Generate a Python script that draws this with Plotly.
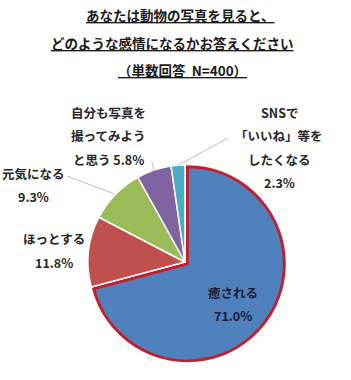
import math
import plotly.graph_objects as go

W, H = 351, 380

categories = ["癒される", "ほっとする", "元気になる", "自分も写真を撮ってみようと思う", "SNSで「いいね」等をしたくなる"]
values = [71.0, 11.8, 9.3, 5.8, 2.3]
colors = ["#4F81BD", "#C0504D", "#9BBB59", "#8064A2", "#4BACC6"]
title_lines = ["あなたは動物の写真を見ると、", "どのような感情になるかお答えください", "（単数回答  N=400）"]
label_lines = [
    ["癒される", "71.0%"],
    ["ほっとする", "11.8%"],
    ["元気になる", "9.3%"],
    ["自分も写真を", "撮ってみよう", "と思う 5.8%"],
    ["SNSで", "「いいね」等を", "したくなる", "2.3%"],
]

# layout (pixels)
cx, cy, r = 185, 262, 97
pull0 = 0.03
R = r * (1 + pull0)

fig = go.Figure(go.Pie(
    labels=categories, values=values, sort=False, direction="clockwise", rotation=0,
    marker=dict(colors=colors, line=dict(color=["#C41E2A", "white", "white", "white", "white"],
                                         width=[3, 1.5, 1.5, 1.5, 1.5])),
    pull=[pull0, 0, 0, 0, 0], textinfo="none", hoverinfo="label+percent", showlegend=False,
    domain=dict(x=[(cx - R) / W, (cx + R) / W], y=[1 - (cy + R) / H, 1 - (cy - R) / H]),
))

def px(x):
    return x / W

def py(y):
    return 1 - y / H

font = "Noto Sans CJK JP"
annotations = []
title_pos = [(180, 15), (172, 43), (182, 70)]
for t, (x, y) in zip(title_lines, title_pos):
    annotations.append(dict(text=f"<u><b>{t}</b></u>", x=px(x), y=py(y), xref="paper", yref="paper",
                            showarrow=False, xanchor="center", yanchor="middle",
                            font=dict(family=font, size=13.5, color="#1a1a1a")))

label_pos = [(233, 292), (54, 239), (33, 173), (108, 112), (279, 112)]
step = 23.5
for i, (lines, (x, y)) in enumerate(zip(label_lines, label_pos)):
    for j, t in enumerate(lines):
        annotations.append(dict(text=f"<b>{t}</b>", x=px(x), y=py(y + j * step), xref="paper", yref="paper",
                                showarrow=False, xanchor="center", yanchor="middle",
                                font=dict(family=font, size=12.5,
                                          color="#1b1d3a" if i == 0 else "#262626")))

# leader lines from label to slice edge midpoint
total = sum(values)
leader_start = {2: (67, 176), 3: (152, 162), 4: (228, 138)}
shapes = []
cum = 0
for i, v in enumerate(values):
    mid = (cum + v / 2) / total * 2 * math.pi
    cum += v
    if i in leader_start:
        ex = cx + r * math.sin(mid)
        ey = cy - r * math.cos(mid)
        sx, sy = leader_start[i]
        shapes.append(dict(type="line", xref="paper", yref="paper", x0=px(sx), y0=py(sy),
                           x1=px(ex), y1=py(ey), line=dict(color="#BFBFBF", width=1)))

fig.update_layout(width=W, height=H, margin=dict(l=0, r=0, t=0, b=0),
                  paper_bgcolor="white", plot_bgcolor="white",
                  annotations=annotations, shapes=shapes)
fig.write_html("out.html")
